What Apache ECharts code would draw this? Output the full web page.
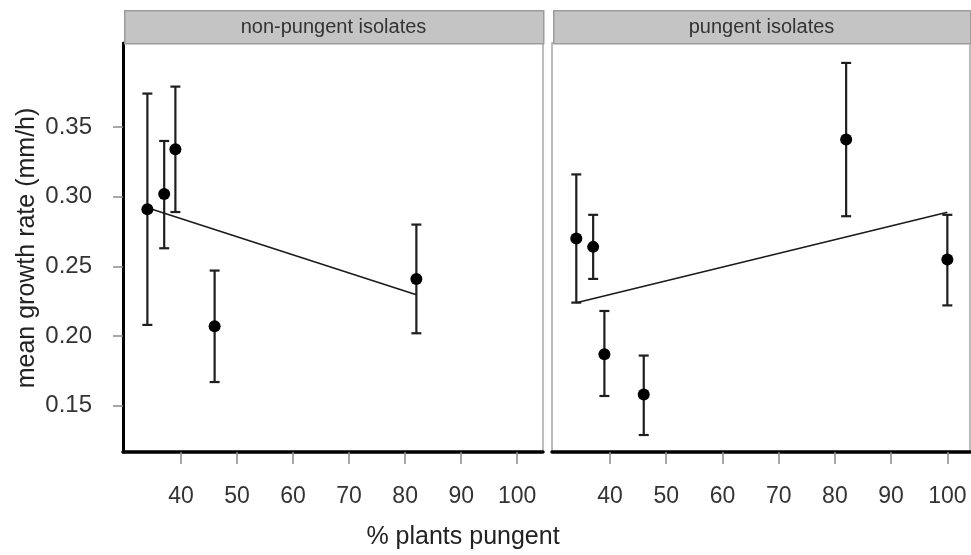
<!DOCTYPE html>
<html>
<head>
<meta charset="utf-8">
<script src="https://cdn.jsdelivr.net/npm/echarts@6/dist/echarts.min.js"></script>
<style>
  html, body { margin: 0; padding: 0; background: #fff; }
  #chart { width: 971px; height: 555px; }
</style>
</head>
<body>
<div id="chart"></div>
<script>
// Panel titles
const panelTitles = ['non-pungent isolates', 'pungent isolates'];

// % plants pungent for each population
const pctNonPungent = [34, 37, 39, 46, 82];
const pctPungent = [34, 37, 39, 46, 82, 100];

// Mean growth rate (mm/h) with lower / upper error limits
const meanNonPungent = [0.291, 0.302, 0.334, 0.207, 0.241];
const lowNonPungent = [0.208, 0.263, 0.289, 0.167, 0.202];
const highNonPungent = [0.374, 0.340, 0.379, 0.247, 0.280];

const meanPungent = [0.270, 0.264, 0.187, 0.158, 0.341, 0.255];
const lowPungent = [0.224, 0.241, 0.157, 0.129, 0.286, 0.222];
const highPungent = [0.316, 0.287, 0.218, 0.186, 0.396, 0.287];

// Fitted regression lines: end points
const fitNonPungentX = [34, 82];
const fitNonPungentY = [0.292, 0.2296];
const fitPungentX = [34, 100];
const fitPungentY = [0.2239, 0.2888];

// Tick values
const xTicks = [40, 50, 60, 70, 80, 90, 100];
const yTicks = [0.15, 0.20, 0.25, 0.30, 0.35];

const FONT = '"Liberation Sans", Arial, Helvetica, sans-serif';

const chart = echarts.init(document.getElementById('chart'), null, { renderer: 'canvas' });

function zip(a, b) { return a.map((v, i) => [v, b[i]]); }

function errorBars(gridIdx, xs, lows, highs) {
  return {
    type: 'custom',
    xAxisIndex: gridIdx,
    yAxisIndex: gridIdx,
    data: xs.map((x, i) => [x, lows[i], highs[i]]),
    z: 3,
    renderItem: function (params, api) {
      const lo = api.coord([api.value(0), api.value(1)]);
      const hi = api.coord([api.value(0), api.value(2)]);
      const cap = 5;
      const style = { stroke: '#1e1e1e', lineWidth: 2.2 };
      return {
        type: 'group',
        children: [
          { type: 'line', shape: { x1: lo[0], y1: lo[1], x2: hi[0], y2: hi[1] }, style: style },
          { type: 'line', shape: { x1: lo[0] - cap, y1: lo[1], x2: lo[0] + cap, y2: lo[1] }, style: style },
          { type: 'line', shape: { x1: hi[0] - cap, y1: hi[1], x2: hi[0] + cap, y2: hi[1] }, style: style }
        ]
      };
    }
  };
}

const yMin = 0.1168, yMax = 0.4103;

function xAxisCfg(gridIdx, min, max) {
  return {
    type: 'value', gridIndex: gridIdx, min: min, max: max,
    splitLine: { show: false },
    axisLine: { show: true, onZero: false, lineStyle: { color: '#000', width: 3.5 } },
    axisTick: { show: true, customValues: xTicks, length: 12, lineStyle: { color: '#8a8a8a', width: 1.5 } },
    axisLabel: { show: true, customValues: xTicks, margin: 33, color: '#333', fontSize: 23, fontFamily: FONT }
  };
}

function yAxisCfg(gridIdx, showAxis) {
  return {
    type: 'value', gridIndex: gridIdx, min: yMin, max: yMax,
    splitLine: { show: false },
    axisLine: { show: showAxis, onZero: false, lineStyle: { color: '#000', width: 3 } },
    axisTick: { show: showAxis, customValues: yTicks, length: 10, lineStyle: { color: '#8a8a8a', width: 1.5 } },
    axisLabel: {
      show: showAxis, customValues: yTicks, margin: 31, color: '#333', fontSize: 24, fontFamily: FONT,
      formatter: v => v.toFixed(2)
    }
  };
}

const option = {
  animation: false,
  backgroundColor: '#fff',
  grid: [
    { left: 123, top: 43, width: 420, height: 409, show: true, borderColor: '#a8a8a8', borderWidth: 1.5, backgroundColor: 'transparent' },
    { left: 552, top: 43, width: 418, height: 409, show: true, borderColor: '#a8a8a8', borderWidth: 1.5, backgroundColor: 'transparent' }
  ],
  xAxis: [xAxisCfg(0, 29.65, 104.6), xAxisCfg(1, 29.68, 104.03)],
  yAxis: [yAxisCfg(0, true), yAxisCfg(1, false)],
  series: [
    errorBars(0, pctNonPungent, lowNonPungent, highNonPungent),
    errorBars(1, pctPungent, lowPungent, highPungent),
    {
      type: 'line', xAxisIndex: 0, yAxisIndex: 0, data: zip(fitNonPungentX, fitNonPungentY),
      symbol: 'none', lineStyle: { color: '#1a1a1a', width: 1.6 }, z: 4
    },
    {
      type: 'line', xAxisIndex: 1, yAxisIndex: 1, data: zip(fitPungentX, fitPungentY),
      symbol: 'none', lineStyle: { color: '#1a1a1a', width: 1.6 }, z: 4
    },
    {
      type: 'scatter', xAxisIndex: 0, yAxisIndex: 0, data: zip(pctNonPungent, meanNonPungent),
      symbol: 'circle', symbolSize: 12, itemStyle: { color: '#000', opacity: 1 }, z: 5
    },
    {
      type: 'scatter', xAxisIndex: 1, yAxisIndex: 1, data: zip(pctPungent, meanPungent),
      symbol: 'circle', symbolSize: 12, itemStyle: { color: '#000', opacity: 1 }, z: 5
    }
  ],
  graphic: [
    // strip headers
    { type: 'rect', left: 124, top: 10, shape: { width: 419, height: 33 }, style: { fill: '#c4c4c4', stroke: '#9c9c9c', lineWidth: 1.5 }, z: 10 },
    { type: 'rect', left: 553, top: 10, shape: { width: 417, height: 33 }, style: { fill: '#c4c4c4', stroke: '#9c9c9c', lineWidth: 1.5 }, z: 10 },
    { type: 'text', x: 333.5, y: 27, style: { text: panelTitles[0], fill: '#333', font: '20px ' + FONT, align: 'center', verticalAlign: 'middle' }, z: 11 },
    { type: 'text', x: 761.5, y: 27, style: { text: panelTitles[1], fill: '#333', font: '20px ' + FONT, align: 'center', verticalAlign: 'middle' }, z: 11 },
    // axis titles
    { type: 'text', x: 463, y: 537, style: { text: '% plants pungent', fill: '#222', font: '25px ' + FONT, align: 'center', verticalAlign: 'middle' } },
    { type: 'text', x: 27, y: 248, rotation: Math.PI / 2, style: { text: 'mean growth rate (mm/h)', fill: '#222', font: '25px ' + FONT, align: 'center', verticalAlign: 'middle' } }
  ]
};

chart.setOption(option);
</script>
</body>
</html>
